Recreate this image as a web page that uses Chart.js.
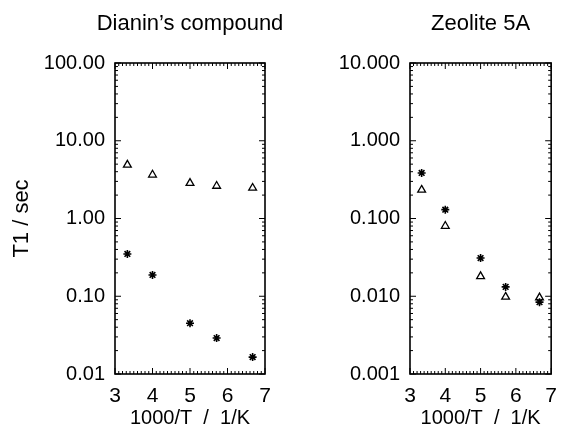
<!DOCTYPE html>
<html>
<head>
<meta charset="utf-8">
<script src="https://cdn.jsdelivr.net/npm/chart.js@4"></script>
<style>
  html, body { margin: 0; padding: 0; background: #fff; }
  .panel { position: absolute; top: 0; height: 428px; }
  #left { left: 0; width: 300px; }
  #right { left: 295px; width: 272px; }
</style>
</head>
<body>
<div class="panel" id="left"><canvas id="dianinChart"></canvas></div>
<div class="panel" id="right"><canvas id="zeoliteChart"></canvas></div>
<script>
// 1000/T values (T = 300, 250, 200, 175, 150 K)
const invTemp = [3.33, 4.0, 5.0, 5.71, 6.67];

// Dianin's compound
const dianinTriangles = [4.9, 3.65, 2.85, 2.62, 2.47];
const dianinStars = [0.35, 0.188, 0.045, 0.029, 0.0165];

// Zeolite 5A
const zeoliteStars = [0.385, 0.13, 0.031, 0.0132, 0.0084];
const zeoliteTriangles = [0.233, 0.08, 0.018, 0.0098, 0.0096];

const leftDecades = [0.01, 0.1, 1, 10, 100];
const rightDecades = [0.001, 0.01, 0.1, 1, 10];
const xTicks = [3, 4, 5, 6, 7];

Chart.defaults.font.family = "'Liberation Sans', Arial, sans-serif";
Chart.defaults.font.size = 20;
Chart.defaults.color = "#000";

// frame with inward major/minor ticks on all four sides
const frameTicks = {
  id: "frameTicks",
  afterLayout(chart) {
    // title sits over the plot box but may be wider than it
    const t = chart.titleBlock, a = chart.chartArea;
    if (t) {
      t.left = a.left - 90;
      t.right = a.right + 90;
      t.width = t.right - t.left;
    }
  },
  afterDatasetsDraw(chart) {
    const { ctx, chartArea: a, scales } = chart;
    const x = scales.x, y = scales.y;
    ctx.save();
    ctx.strokeStyle = "#000";
    ctx.lineWidth = 1.6;
    ctx.strokeRect(a.left, a.top, a.right - a.left, a.bottom - a.top);
    ctx.lineWidth = 1;
    ctx.beginPath();
    for (let i = Math.round(x.min * 10); i <= Math.round(x.max * 10); i++) {
      const px = x.getPixelForValue(i / 10);
      const len = i % 10 === 0 ? 6 : 3;
      ctx.moveTo(px, a.bottom); ctx.lineTo(px, a.bottom - len);
      ctx.moveTo(px, a.top); ctx.lineTo(px, a.top + len);
    }
    const d0 = Math.round(Math.log10(y.min)), d1 = Math.round(Math.log10(y.max));
    for (let d = d0; d <= d1; d++) {
      for (let m = 1; m <= 9; m++) {
        const v = m * Math.pow(10, d);
        if (v > y.max * 1.0001) break;
        const py = y.getPixelForValue(v);
        const len = m === 1 ? 6 : 3;
        ctx.moveTo(a.left, py); ctx.lineTo(a.left + len, py);
        ctx.moveTo(a.right, py); ctx.lineTo(a.right - len, py);
      }
    }
    ctx.stroke();
    ctx.restore();
  }
};

const makePoints = (ys) => invTemp.map((t, i) => ({ x: t, y: ys[i] }));

const makeChart = (id, title, triangles, stars, decades, digits, showYTitle, rightPad) => {
  const ctx = document.getElementById(id).getContext("2d");
  var chartExist = Chart.getChart(id);
  if (chartExist != undefined) {
    chartExist.destroy();
  }
  return new Chart(ctx, {
    type: "scatter",
    data: {
      datasets: [
        {
          label: "triangles",
          data: makePoints(triangles),
          pointStyle: "triangle",
          pointRadius: 4.5,
          borderColor: "#000",
          backgroundColor: "rgba(0,0,0,0)",
          borderWidth: 1.3,
        },
        {
          label: "stars",
          data: makePoints(stars),
          pointStyle: "star",
          pointRadius: 4,
          borderColor: "#000",
          backgroundColor: "#000",
          borderWidth: 1.6,
        },
      ],
    },
    options: {
      responsive: true,
      maintainAspectRatio: false,
      animation: false,
      layout: { padding: { left: 0, right: rightPad, top: 0, bottom: 0 } },
      plugins: {
        legend: { display: false },
        tooltip: { enabled: false },
        title: {
          display: true,
          text: title,
          fullSize: false,
          color: "#000",
          font: { size: 22, weight: "normal", lineHeight: 1.2 },
          padding: { top: 11, bottom: 25.6 },
        },
      },
      scales: {
        x: {
          type: "linear",
          min: 3,
          max: 7,
          grid: { display: false, drawTicks: false },
          border: { display: false },
          afterBuildTicks: (s) => { s.ticks = xTicks.map((v) => ({ value: v })); },
          afterFit: (s) => { s.height = 54; },
          ticks: { padding: 10, autoSkip: false, maxRotation: 0, font: { size: 21 } },
          title: {
            display: true,
            text: "1000/T  /  1/K",
            font: { size: 20, lineHeight: 1 },
            padding: { top: 0, bottom: 0 },
          },
        },
        y: {
          type: "logarithmic",
          min: decades[0],
          max: decades[decades.length - 1],
          grid: { display: false, drawTicks: false },
          border: { display: false },
          afterBuildTicks: (s) => { s.ticks = decades.map((v) => ({ value: v })); },
          afterFit: (s) => { s.width = 115; },
          ticks: {
            padding: 10,
            autoSkip: false,
            font: { size: 20 },
            callback: (v) => Number(v).toFixed(digits),
          },
          title: {
            display: showYTitle,
            text: "T1 / sec",
            font: { size: 22, lineHeight: 1.2 },
            padding: { top: 9, bottom: 0 },
          },
        },
      },
    },
    plugins: [frameTicks],
  });
};

makeChart("dianinChart", "Dianin\u2019s compound", dianinTriangles, dianinStars, leftDecades, 2, true, 35);
makeChart("zeoliteChart", "Zeolite 5A", zeoliteTriangles, zeoliteStars, rightDecades, 3, false, 7);
</script>
</body>
</html>
